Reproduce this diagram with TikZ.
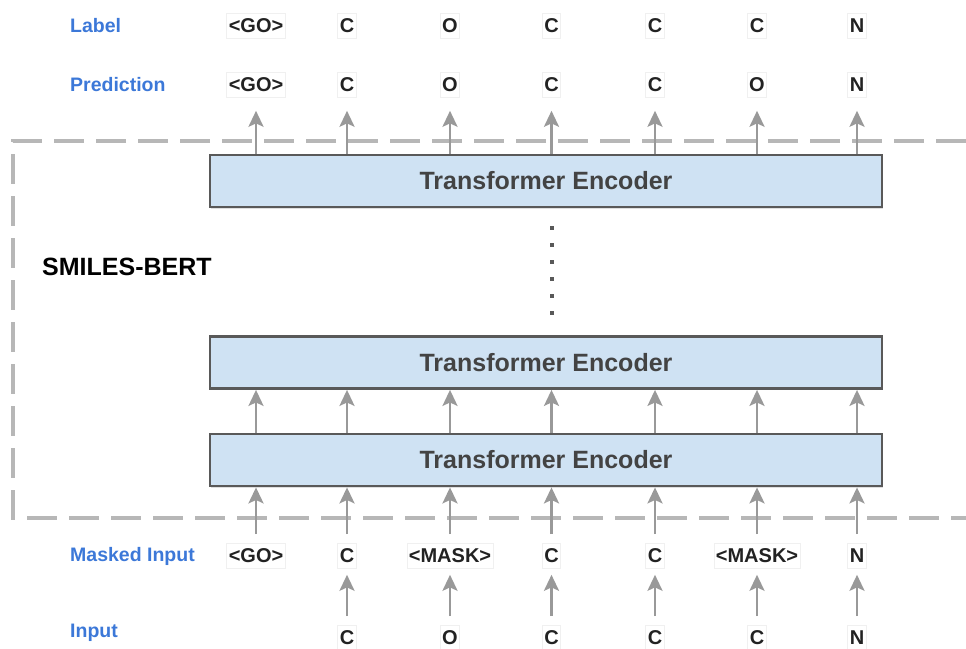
\documentclass[tikz,border=0pt]{standalone}
\usepackage{fontspec}
\setmainfont{Liberation Sans}
\usetikzlibrary{arrows.meta,shadows}

\definecolor{lblblue}{HTML}{3C78D8}
\definecolor{encfill}{HTML}{CFE2F3}
\definecolor{encline}{HTML}{595959}
\definecolor{enctext}{HTML}{434343}
\definecolor{arrowgray}{HTML}{999999}
\definecolor{dashgray}{HTML}{B7B7B7}
\definecolor{tokline}{HTML}{F0F0F0}
\definecolor{tokentext}{HTML}{222222}

\begin{document}
\begin{tikzpicture}[x=1pt,y=-1pt,
  encoder/.style={draw=encline, fill=encfill, line width=2.8pt,
    minimum width=672pt, minimum height=52pt, inner sep=0pt,
    font=\bfseries\fontsize{25}{28}\selectfont, text=enctext,
    drop shadow={shadow xshift=1pt, shadow yshift=-1.5pt, opacity=0.25}},
  token/.style={draw=tokline, fill=white, line width=0.6pt, inner xsep=2pt,
    inner ysep=0pt, minimum height=25pt,
    font=\bfseries\fontsize{20}{22}\selectfont, text=tokentext},
  rowlabel/.style={anchor=west, inner sep=0pt, text=lblblue,
    font=\bfseries\fontsize{19.5}{22}\selectfont},
  flow/.style={draw=arrowgray, line width=2.8pt,
    -{Stealth[length=16pt,width=15pt,inset=3.5pt]}},
  stackdot/.style={rectangle, fill=encline, inner sep=0pt, minimum size=4pt},
]
\useasboundingbox (0,0) rectangle (966,648);

% model frame, open on the right
\draw[dashgray, line width=4pt, dash pattern=on 30pt off 12pt]
  (966,141) -- (13,141) -- (13,518) -- (966,518);
\node[anchor=west, inner sep=0pt, font=\bfseries\fontsize{25}{28}\selectfont]
  (bert) at (42,267) {SMILES-BERT};

% encoder stack
\node[encoder] (enc3) at (546,181) {Transformer Encoder};
\node[encoder] (enc2) at (546,362.5) {Transformer Encoder};
\node[encoder] (enc1) at (546,460) {Transformer Encoder};
\foreach \y [count=\k] in {228,245,262,279,296,313}
  \node[stackdot] (dot\k) at (551.5,\y) {};

% row captions
\node[rowlabel] (capLabel) at (70,26) {Label};
\node[rowlabel] (capPred) at (70,85) {Prediction};
\node[rowlabel] (capMasked) at (70,556) {Masked Input};
\node[rowlabel] (capInput) at (70,633) {Input};

% token rows
\foreach \x/\t [count=\i] in {256/<GO>,347/C,450/O,551.5/C,655/C,757/C,857/N}
  \node[token] (lab\i) at (\x,26) {\t};
\foreach \x/\t [count=\i] in {256/<GO>,347/C,450/O,551.5/C,655/C,757/O,857/N}
  \node[token] (pred\i) at (\x,85) {\t};
\foreach \x/\t [count=\i] in {256/<GO>,347/C,450/<MASK>,551.5/C,655/C,757/<MASK>,857/N}
  \node[token] (mask\i) at (\x,556) {\t};
\foreach \x/\t [count=\i] in {347/C,450/O,551.5/C,655/C,757/C,857/N}
  \node[token] (in\i) at (\x,638) {\t};

% connectors
\foreach \i in {1,...,7} {
  \draw[flow, shorten >=13pt] (enc3.north -| pred\i) -- (pred\i.south);
  \draw[flow] (enc1.north -| pred\i) -- (enc2.south -| pred\i);
  \draw[flow, shorten <=9pt] (mask\i.north) -- (enc1.south -| mask\i);
}
\foreach \i [evaluate=\i as \j using int(\i+1)] in {1,...,6}
  \draw[flow, shorten <=9pt, shorten >=6pt] (in\i.north) -- (mask\j.south);
\end{tikzpicture}
\end{document}
